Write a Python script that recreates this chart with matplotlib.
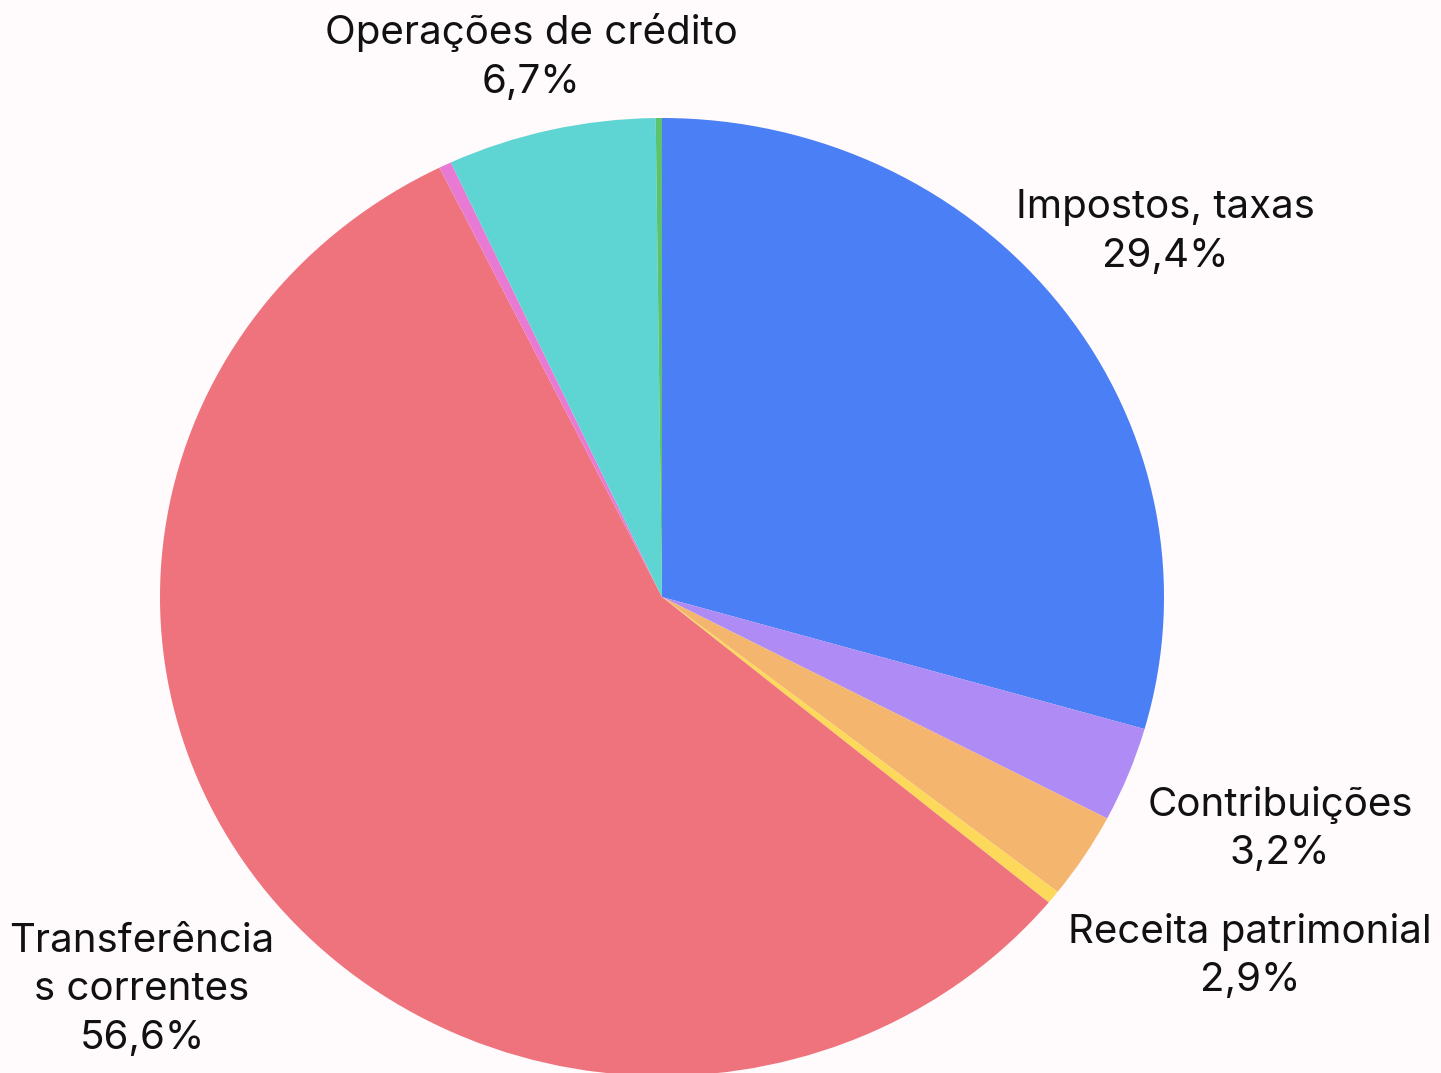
import matplotlib
matplotlib.use("Agg")
from matplotlib import pyplot as plt

# receitas, clockwise from the top
categories = ["Impostos, taxas", "Contribuições", "Receita patrimonial", "Outras (a)",
              "Transferências correntes", "Outras (b)", "Operações de crédito", "Outras (c)"]
values = [29.4, 3.2, 2.9, 0.45, 56.6, 0.4, 6.7, 0.2]
colors = ["#4A7FF5", "#AF8CF5", "#F4B66E", "#FCD95B",
          "#EE737C", "#E87AD3", "#5ED5D3", "#5CC26E"]

# labels shown outside (text, x px, y px of block centre)
label_text = {
    "Impostos, taxas": "Impostos, taxas",
    "Contribuições": "Contribuições",
    "Receita patrimonial": "Receita patrimonial",
    "Transferências correntes": "Transferência\ns correntes",
    "Operações de crédito": "Operações de crédito",
}
label_pos = {
    "Impostos, taxas": (1165, 232),
    "Contribuições": (1280, 829),
    "Receita patrimonial": (1250, 956),
    "Transferências correntes": (142, 990),
    "Operações de crédito": (531, 57),
}

W, H = 1441, 1073
bg = "#FFFAFB"
plt.rcParams['font.family'] = ['Inter', 'DejaVu Sans']

fig = plt.figure(figsize=(W / 100, H / 100), dpi=100, facecolor=bg)
ax = fig.add_axes([0, 0, 1, 1])
ax.set_facecolor(bg)

cx, cy, rx, ry = 662, 597, 502, 479
ax.pie(values, colors=colors, startangle=90, counterclock=False, radius=1,
       wedgeprops=dict(linewidth=0))
ax.set_aspect('auto')
ax.set_xlim(-cx / rx, (W - cx) / rx)
ax.set_ylim(-(H - cy) / ry, cy / ry)
ax.axis('off')

for cat, v in zip(categories, values):
    if cat not in label_text:
        continue
    x, y = label_pos[cat]
    txt = label_text[cat] + "\n" + ("%.1f%%" % v).replace(".", ",")
    fig.text(x / W, 1 - y / H, txt, ha='center', va='center', fontsize=29,
             color="#111111", linespacing=1.4)

fig.savefig("out.png", dpi=100, facecolor=bg)
